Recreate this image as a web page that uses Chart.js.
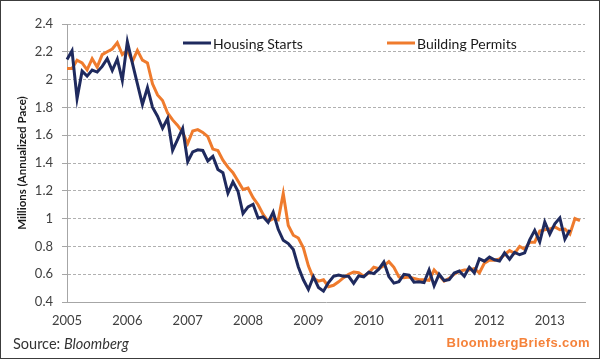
<!DOCTYPE html>
<html><head><meta charset="utf-8">
<script src="https://cdn.jsdelivr.net/npm/chart.js@4.4.0/dist/chart.umd.min.js"></script>
<style>
html,body{margin:0;padding:0;background:#fff;}
#wrap{position:relative;width:600px;height:359px;overflow:hidden;background:#fff;}
#frame{position:absolute;left:0;top:0;width:600px;height:359px;box-sizing:border-box;border:1px solid #3c3c3c;pointer-events:none;}
canvas{position:absolute;left:0;top:0;}
#src{position:absolute;left:13px;top:335px;font:14.5px Lato, sans-serif;color:#333;white-space:nowrap;}
#brand{position:absolute;right:10px;top:335px;font:bold 13px "Liberation Sans",Arial,sans-serif;color:#f5823a;letter-spacing:0.4px;white-space:nowrap;}
</style></head><body>
<div id="wrap"><canvas id="c" width="600" height="359"></canvas><div id="src">Source: <i>Bloomberg</i></div><div id="brand">BloombergBriefs.com</div><div id="frame"></div></div>
<script>
// Tick labels (years) and monthly categories Jan 2005 .. Aug 2013
const years = ['2005','2006','2007','2008','2009','2010','2011','2012','2013'];
const monthsInLastYear = 8;
const categories = [];
years.forEach((y, yi) => {
  const n = yi === years.length - 1 ? monthsInLastYear : 12;
  for (let m = 1; m <= n; m++) categories.push(y + '-' + String(m).padStart(2, '0'));
});

// Housing Starts, millions (annualized pace)
const housingStarts = [
  2.144, 2.207, 1.864, 2.061, 2.025, 2.068, 2.054, 2.095, 2.151, 2.065, 2.147, 1.994,
  2.273, 2.119, 1.969, 1.821, 1.942, 1.802, 1.737, 1.650, 1.720, 1.491, 1.570, 1.649,
  1.409, 1.480, 1.495, 1.490, 1.415, 1.448, 1.354, 1.330, 1.183, 1.264, 1.197, 1.037,
  1.084, 1.103, 1.005, 1.013, 0.973, 1.046, 0.923, 0.844, 0.820, 0.777, 0.652, 0.560,
  0.490, 0.582, 0.505, 0.478, 0.540, 0.585, 0.594, 0.586, 0.585, 0.534, 0.588, 0.581,
  0.614, 0.604, 0.636, 0.687, 0.583, 0.536, 0.546, 0.599, 0.594, 0.543, 0.545, 0.539,
  0.630, 0.517, 0.600, 0.554, 0.561, 0.608, 0.623, 0.585, 0.650, 0.610, 0.711, 0.694,
  0.723, 0.704, 0.695, 0.753, 0.708, 0.757, 0.740, 0.754, 0.847, 0.915, 0.833, 0.976,
  0.888, 0.962, 1.005, 0.852, 0.919
];

// Building Permits, millions (annualized pace)
const buildingPermits = [
  2.08, 2.08, 2.14, 2.12, 2.07, 2.15, 2.09, 2.18, 2.20, 2.22, 2.265, 2.18,
  2.21, 2.13, 2.21, 2.14, 2.12, 1.97, 1.89, 1.85, 1.76, 1.71, 1.67, 1.62,
  1.54, 1.63, 1.64, 1.62, 1.59, 1.50, 1.49, 1.42, 1.37, 1.33, 1.27, 1.21,
  1.22, 1.15, 1.10, 1.03, 0.98, 1.00, 0.99, 1.18, 0.95, 0.88, 0.86, 0.79,
  0.66, 0.57, 0.55, 0.56, 0.51, 0.52, 0.545, 0.575, 0.60, 0.615, 0.61, 0.585,
  0.61, 0.65, 0.64, 0.66, 0.69, 0.65, 0.58, 0.575, 0.58, 0.57, 0.56, 0.56,
  0.555, 0.63, 0.59, 0.55, 0.57, 0.60, 0.62, 0.63, 0.63, 0.64, 0.61, 0.68,
  0.70, 0.70, 0.71, 0.74, 0.77, 0.75, 0.80, 0.78, 0.83, 0.83, 0.91, 0.92,
  0.925, 0.94, 0.92, 0.925, 0.89, 1.00, 0.985
];

const yTicks = [0.4, 0.6, 0.8, 1, 1.2, 1.4, 1.6, 1.8, 2, 2.2, 2.4];

const NAVY = '#1f2a5e';
const ORANGE = '#ef7b2d';
const legendOffsets = [116, 320];

const insideLegend = {
  id: 'insideLegend',
  afterDatasetsDraw(chart) {
    const {ctx, chartArea} = chart;
    chart.data.datasets.forEach((ds, i) => {
      const x0 = chartArea.left + legendOffsets[i];
      const y = chartArea.top + 19;
      ctx.save();
      ctx.strokeStyle = ds.borderColor;
      ctx.lineWidth = 3;
      ctx.beginPath(); ctx.moveTo(x0, y); ctx.lineTo(x0 + 28, y); ctx.stroke();
      ctx.fillStyle = '#1a1a1a';
      ctx.font = '14px Lato';
      ctx.textBaseline = 'middle';
      ctx.fillText(ds.label, x0 + 30, y + 1);
      ctx.restore();
    });
  }
};

new Chart(document.getElementById('c'), {
  type: 'line',
  data: {
    labels: categories,
    datasets: [
      { label: 'Housing Starts', data: housingStarts, borderColor: NAVY, backgroundColor: NAVY,
        borderWidth: 3, pointRadius: 0, tension: 0, fill: false },
      { label: 'Building Permits', data: buildingPermits, borderColor: ORANGE, backgroundColor: ORANGE,
        borderWidth: 3, pointRadius: 0, tension: 0, fill: false }
    ]
  },
  options: {
    responsive: false,
    animation: false,
    devicePixelRatio: 1,
    layout: { padding: { top: 24, right: 15, left: 0, bottom: 29 } },
    plugins: { legend: { display: false }, tooltip: { enabled: false } },
    scales: {
      x: {
        type: 'category',
        offset: false,
        grid: { display: false, drawTicks: false },
        border: { display: true, color: '#a6a6a6', width: 1 },
        ticks: {
          autoSkip: false, maxRotation: 0, minRotation: 0, padding: 11,
          color: '#404040', font: { family: 'Lato', size: 13 },
          callback: function(v, i) {
            const lab = categories[i];
            return lab.endsWith('-01') ? lab.slice(0, 4) : '';
          }
        },
        afterFit: s => { s.height = 28; }
      },
      y: {
        min: 0.4, max: 2.4,
        afterBuildTicks: s => { s.ticks = yTicks.map(v => ({ value: v })); },
        grid: { color: '#b0b0b0', lineWidth: 1, drawTicks: true, tickLength: 5,
                tickColor: '#a6a6a6', tickBorderDash: [] },
        border: { display: true, color: '#a6a6a6', width: 1, dash: [3, 2] },
        ticks: { padding: 9, color: '#404040', font: { family: 'Lato', size: 13 },
                 callback: v => String(+(+v).toFixed(1)) },
        title: { display: true, text: 'Millions (Annualized Pace)', color: '#1a1a1a',
                 font: { family: 'Lato', size: 11.5, weight: 'bold' }, padding: { top: 15, bottom: 0 } },
        afterFit: s => { s.width = 67; }
      }
    }
  },
  plugins: [insideLegend]
});
</script>
</body></html>
